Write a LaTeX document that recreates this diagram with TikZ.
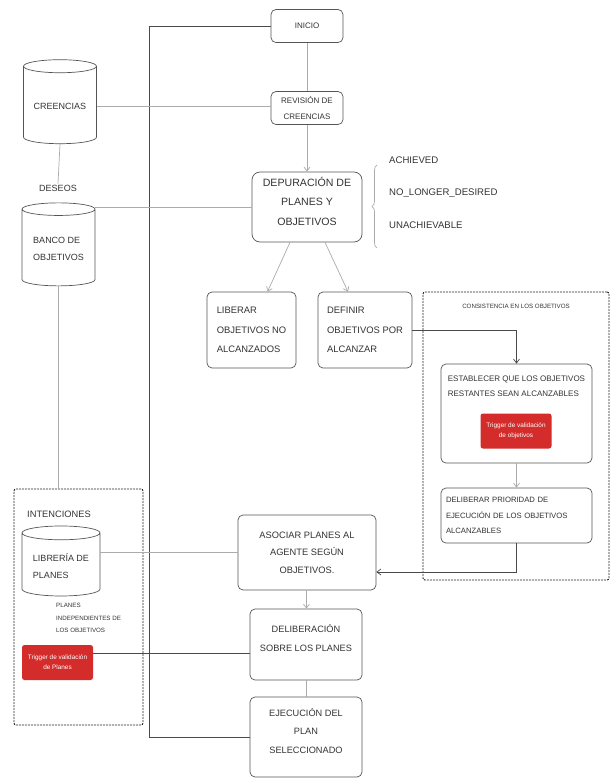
\documentclass[tikz,border=0pt]{standalone}
\usepackage{fontspec}
\setmainfont{Liberation Sans}
\usepackage{tikz}
\usetikzlibrary{arrows.meta,positioning,calc,shapes.geometric,decorations.pathreplacing}
\definecolor{boxline}{HTML}{555555}
\definecolor{linkc}{HTML}{ABABAB}
\definecolor{darkc}{HTML}{4A4A4A}
\definecolor{txtc}{HTML}{333333}
\definecolor{trigc}{HTML}{D42B2B}
\newcommand{\fs}[2]{\fontsize{#1}{#2}\selectfont}
\tikzset{
  sz/.style 2 args={minimum width=#1pt, minimum height=#2pt},
  procbox/.style={draw=boxline, rounded corners=5pt, fill=white, align=center, text=txtc,
               inner sep=3pt, line width=0.7pt, font=\fs{9}{18}},
  boxtxt/.style={align=left, text=txtc, inner sep=0pt, font=\fs{8}{15}},
  store/.style={cylinder, shape border rotate=90, aspect=0.22, draw=boxline, fill=white,
               line width=0.7pt, align=left, text=txtc, font=\fs{9}{17}},
  group/.style={draw=black!85, dash pattern=on 2pt off 1pt, rounded corners=2pt, line width=0.9pt},
  grouplbl/.style={text=txtc, inner sep=1pt, font=\fs{6.2}{8}},
  trigbox/.style={fill=trigc, text=white, rounded corners=2.5pt, align=center, inner sep=1pt,
               font=\fs{6.4}{10}},
  plainlbl/.style={text=txtc, inner sep=1pt, font=\fs{9}{12}},
  tinylbl/.style={text=txtc, align=left, inner sep=0pt, font=\fs{6.2}{12.5}},
  statelbl/.style={text=txtc, anchor=west, inner sep=0pt, font=\fs{9.6}{10}},
  link/.style={draw=linkc, line width=0.7pt},
  darklink/.style={draw=darkc, line width=0.8pt},
  flow/.style={-{Straight Barb[length=4pt,width=6pt]}, draw=linkc, line width=0.7pt},
  darkflow/.style={-{Straight Barb[length=4pt,width=6pt]}, draw=darkc, line width=0.7pt},
  bracec/.style={decorate, decoration={brace, amplitude=5pt}, draw=linkc, line width=0.7pt},
}

\begin{document}
\begin{tikzpicture}[x=1pt,y=-1pt]
  \useasboundingbox (0,0) rectangle (611,782);
  % groups
  \node[group, sz={186}{288}] (consist) at (516,436) {};
  \node[grouplbl] (consistlbl) at (516,306) {CONSISTENCIA EN LOS OBJETIVOS};
  \node[group, sz={129}{236}] (intenc) at (78.5,607) {};
  \node[plainlbl, anchor=west, font=\fs{9.3}{10}] (intenclbl) at (26,514) {INTENCIONES};
  % main flow
  \node[procbox, sz={72}{33}, font=\fs{8}{16}] (inicio) at (307,26) {INICIO};
  \node[procbox, sz={72}{33}, font=\fs{8}{16}] (revision) at (307,108) {REVISIÓN DE\\CREENCIAS};
  \node[procbox, sz={110}{70}, rounded corners=8pt, font=\fs{10.6}{19.5}] (depur) at (307,207)
    {DEPURACIÓN DE\\PLANES Y\\OBJETIVOS\\[-8pt]};
  \node[procbox, align=left, sz={89}{76}, font=\fs{9.4}{19.5}] (liberar) at (251.5,330) {LIBERAR\\OBJETIVOS NO\\ALCANZADOS};
  \node[procbox, align=left, sz={94}{76}, font=\fs{9.4}{19.5}] (definir) at (365,330) {DEFINIR\\OBJETIVOS POR\\ALCANZAR};
  \node[procbox, sz={151}{99}] (estab) at (516.5,413.5) {};
  \node[boxtxt, anchor=north west] (estabtxt) at ([xshift=7pt,yshift=-12pt]estab.north west)
    {ESTABLECER QUE LOS OBJETIVOS\\RESTANTES SEAN ALCANZABLES};
  \node[trigbox, sz={71}{35}] (trigobj) at (516,431) {Trigger de validación\\de objetivos};
  \node[procbox, align=left, text width=141pt, inner sep=5pt, minimum height=55pt, font=\fs{7.7}{15.5}]
    (delibobj) at (516.5,515.5) {DELIBERAR PRIORIDAD DE\\EJECUCIÓN DE LOS OBJETIVOS\\ALCANZABLES};
  \node[procbox, sz={138}{75}, font=\fs{9.3}{17.5}] (asociar) at (307,552.5) {ASOCIAR PLANES AL\\AGENTE SEGÚN\\OBJETIVOS.};
  \node[procbox, sz={112}{71}, font=\fs{9.2}{19}] (delibplan) at (306,644.5) {DELIBERACIÓN\\SOBRE LOS PLANES\\[-6pt]};
  \node[procbox, sz={112}{80}, font=\fs{9.2}{18.5}] (ejec) at (306,737) {EJECUCIÓN DEL\\PLAN\\SELECCIONADO\\[-6pt]};
  % stores
  \node[store, sz={73}{84}] (creencias) at (60,106.5) {CREENCIAS};
  \node[plainlbl] (deseos) at (58,188) {DESEOS};
  \node[store, sz={73}{83}] (banco) at (58.5,249) {BANCO DE\\OBJETIVOS};
  \node[store, sz={78}{70}] (libreria) at (61,566) {LIBRERÍA DE\\PLANES};
  \node[tinylbl, anchor=north west] (indep) at (56,603) {PLANES\\INDEPENDIENTES DE\\LOS OBJETIVOS};
  \node[trigbox, sz={71}{35}] (trigplan) at (57.5,662.5) {Trigger de validación\\de Planes};
  % goal states
  \coordinate (brbot) at (377,248); \coordinate (brtop) at (377,165);
  \draw[bracec] (brbot) -- (brtop);
  \node[statelbl] (achieved) at (389,160) {ACHIEVED};
  \node[statelbl] (nolonger) at (389,193) {NO\_LONGER\_DESIRED};
  \node[statelbl] (unach) at (389,225) {UNACHIEVABLE};
  % connectors
  \draw[darklink] (inicio.west) -- ++(-121,0) |- (ejec.west);
  \draw[link] (inicio) -- (revision); \draw[flow] (revision) -- (depur);
  \draw[link] (creencias.east) -- (creencias.east -| revision.west);
  \draw[link] (creencias.south) -- (deseos.north);
  \draw[link] (depur.west) -- (depur.west -| banco.east);
  \draw[link] (banco.south) -- (banco.south |- intenc.north);
  \draw[flow] ([xshift=-17pt]depur.south) -- ([xshift=16pt]liberar.north);
  \draw[flow] ([xshift=18pt]depur.south) -- ([xshift=-17pt]definir.north);
  \draw[darkflow] (definir.east) -| (estab.north);
  \draw[flow] (estab) -- (delibobj);
  \draw[darkflow] (delibobj.south) |- ([yshift=-19.5pt]asociar.east);
  \draw[link] (asociar.west -| libreria.east) -- (asociar.west);
  \draw[flow] (asociar) -- (delibplan); \draw[link] (delibplan) -- (ejec);
  \draw[darklink] ([yshift=9.5pt]trigplan.east) -- ([yshift=9.5pt]trigplan.east -| delibplan.west);
\end{tikzpicture}
\end{document}
